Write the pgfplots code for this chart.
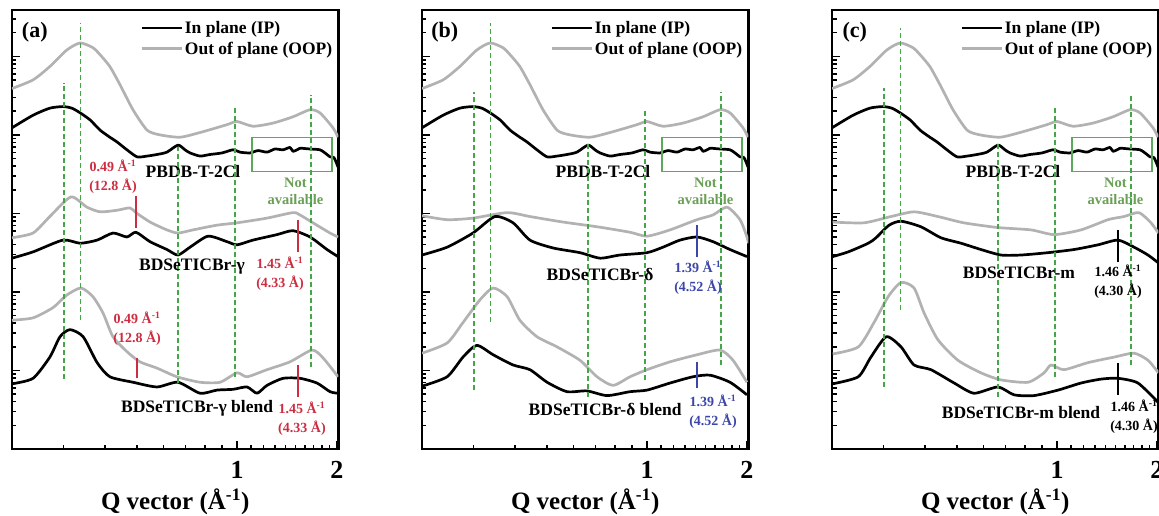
\documentclass[border=0pt]{standalone}
\usepackage{fontspec}
\setmainfont{Liberation Serif}
\usepackage{pgfplots}
\pgfplotsset{compat=1.18}
\definecolor{oop}{RGB}{178,178,178}
\definecolor{dgreen}{RGB}{70,165,70}
\definecolor{boxgreen}{RGB}{90,170,90}
\definecolor{txtgreen}{RGB}{105,160,85}
\definecolor{lred}{RGB}{205,45,65}
\definecolor{lblue}{RGB}{60,70,170}
\newcommand\lbl{\fontsize{17.5}{21}\selectfont\bfseries}
\newcommand\sml{\fontsize{14}{19}\selectfont\bfseries}
\newcommand\gsml{\fontsize{14.5}{17}\selectfont\bfseries}
\tikzset{
 ipcurve/.style={black, line width=2.7pt, smooth, tension=0.4, line join=round},
 opcurve/.style={oop, line width=2.7pt, smooth, tension=0.4, line join=round},
 gdash/.style={dgreen, line width=1.6pt, dash pattern=on 5pt off 3pt},
}
\newcommand\pbdb{%
 \addplot[ipcurve] coordinates {(0.210,4.09)(0.243,4.25)(0.273,4.34)(0.299,4.36)(0.318,4.34)(0.337,4.28)(0.361,4.19)(0.387,4.06)(0.414,3.97)(0.435,3.91)(0.466,3.81)(0.500,3.72)(0.536,3.73)(0.574,3.75)(0.615,3.78)(0.664,3.87)(0.697,3.81)(0.722,3.77)(0.774,3.73)(0.829,3.75)(0.901,3.77)(0.973,3.81)(1.021,3.78)(1.094,3.77)(1.157,3.80)(1.231,3.78)(1.301,3.82)(1.376,3.81)(1.444,3.84)(1.474,3.79)(1.516,3.81)(1.548,3.83)(1.659,3.82)(1.778,3.81)(1.854,3.76)(1.906,3.72)(1.960,3.71)(2.015,3.59)};
 \addlegendentry{In plane (IP)}
 \addplot[opcurve] coordinates {(0.210,4.59)(0.243,4.70)(0.273,4.87)(0.307,5.08)(0.337,5.17)(0.368,5.11)(0.387,5.02)(0.414,4.87)(0.444,4.64)(0.486,4.32)(0.536,4.06)(0.586,4.00)(0.673,3.97)(0.774,4.03)(0.933,4.13)(1.000,4.17)(1.117,4.11)(1.283,4.15)(1.474,4.23)(1.659,4.32)(1.778,4.28)(1.946,4.09)(2.015,3.97)};
 \addlegendentry{Out of plane (OOP)}
 \draw[boxgreen, line width=1.4pt] (axis cs:1.11,3.53) rectangle (axis cs:1.93,3.97);
 \node[font=\lbl] at (axis cs:0.737,3.53) {PBDB-T-2Cl};
 \node[txtgreen, font=\gsml, align=center] at (axis cs:1.50,3.28) {Not\\available};
}
\pgfplotsset{
  /pgfplots/every axis/.append style={
  scale only axis, width=326.4pt, height=439pt,
  xmin=0.21, xmax=2.02, ymin=0, ymax=5.59,
  axis line style={line width=2.3pt},
  tick align=inside, xtick pos=bottom, ytick pos=left,
  major tick length=8pt, minor tick length=4.5pt,
  every tick/.style={line width=1.5pt, black},
  xticklabel style={font=\fontsize{26}{26}\selectfont\bfseries, yshift=-9pt},
  xlabel style={font=\fontsize{25}{25}\selectfont\bfseries, at={(axis description cs:0.5,0)}, anchor=center, yshift=-53pt},
  legend style={draw=none, fill=none, font=\lbl, at={(1,1)}, anchor=north east, xshift=-2pt, yshift=-7pt, row sep=3pt, inner sep=2pt},
  legend cell align=left,
  }
}
\begin{document}
\begin{tikzpicture}
\useasboundingbox (0,0) rectangle (1159pt,515pt);
% ---------------- (a)
\begin{axis}[at={(12pt,66pt)}, anchor=south west, xmode=log,
  xtick={1,2}, xticklabels={1,2},
  minor xtick={0.3,0.4,0.5,0.6,0.7,0.8,0.9,1.1,1.2,1.3,1.4,1.5,1.6,1.7,1.8,1.9},
  ytick={1,2,3,4,5}, yticklabels={},
  minor ytick={0.301,0.477,0.602,0.699,0.778,0.845,0.903,0.954,1.301,1.477,1.602,1.699,1.778,1.845,1.903,1.954,2.301,2.477,2.602,2.699,2.778,2.845,2.903,2.954,3.301,3.477,3.602,3.699,3.778,3.845,3.903,3.954,4.301,4.477,4.602,4.699,4.778,4.845,4.903,4.954,5.301,5.477},
  xlabel={Q vector (Å\textsuperscript{-1})},
  legend image code/.code={\draw[#1] (0pt,0pt) -- (40pt,0pt);}]
 \pbdb
 \addplot[opcurve, forget plot] coordinates {(0.210,2.69)(0.243,2.75)(0.273,2.96)(0.316,3.21)(0.353,3.08)(0.387,3.02)(0.435,3.04)(0.476,3.07)(0.496,3.01)(0.547,2.89)(0.615,2.79)(0.664,2.75)(0.737,2.79)(0.870,2.85)(1.000,2.88)(1.231,2.94)(1.474,3.01)(1.548,2.98)(1.694,2.88)(1.906,2.75)(2.015,2.70)};
 \addplot[ipcurve, forget plot] coordinates {(0.210,2.43)(0.243,2.51)(0.299,2.66)(0.337,2.62)(0.379,2.66)(0.423,2.75)(0.466,2.70)(0.496,2.76)(0.547,2.64)(0.615,2.54)(0.664,2.47)(0.722,2.57)(0.818,2.71)(0.933,2.64)(1.000,2.60)(1.117,2.66)(1.320,2.73)(1.474,2.78)(1.659,2.70)(1.867,2.54)(2.015,2.45)};
 \addplot[opcurve, forget plot] coordinates {(0.210,1.64)(0.243,1.67)(0.279,1.80)(0.307,1.96)(0.339,2.05)(0.368,1.94)(0.395,1.73)(0.423,1.43)(0.466,1.24)(0.510,1.11)(0.574,1.03)(0.659,0.92)(0.774,0.85)(0.889,0.85)(1.000,0.97)(1.072,0.92)(1.231,1.01)(1.444,1.11)(1.682,1.26)(1.816,1.16)(2.015,0.92)};
 \addplot[ipcurve, forget plot] coordinates {(0.210,0.83)(0.243,0.90)(0.273,1.17)(0.293,1.43)(0.314,1.52)(0.344,1.43)(0.379,1.10)(0.414,0.92)(0.486,0.85)(0.574,0.79)(0.664,0.85)(0.774,0.71)(0.870,0.75)(0.973,0.76)(1.072,0.79)(1.149,0.71)(1.231,0.81)(1.376,0.90)(1.548,0.90)(1.741,0.84)(1.906,0.73)(2.015,0.71)};
 \addplot[gdash, forget plot] coordinates {(0.301,0.89)(0.301,4.66)};
 \addplot[gdash, forget plot] coordinates {(0.3375,1.64)(0.3375,5.43)};
 \addplot[gdash, forget plot] coordinates {(0.664,0.84)(0.664,3.85)};
 \addplot[gdash, forget plot] coordinates {(0.985,0.92)(0.985,4.36)};
 \addplot[gdash, forget plot] coordinates {(1.671,1.04)(1.671,4.51)};
 \addplot[lred, line width=1.4pt, forget plot] coordinates {(0.496,2.82)(0.496,3.22)};
 \addplot[lred, line width=1.4pt, forget plot] coordinates {(1.526,2.51)(1.526,2.92)};
 \addplot[lred, line width=1.4pt, forget plot] coordinates {(0.500,0.90)(0.500,1.16)};
 \addplot[lred, line width=1.4pt, forget plot] coordinates {(1.526,0.66)(1.526,1.07)};
 \node[font=\fontsize{22}{22}\selectfont\bfseries] at (axis cs:0.246,5.31) {(a)};
 \node[lred, font=\sml, align=center] at (axis cs:0.423,3.47) {0.49 Å\textsuperscript{-1}\\(12.8 Å)};
 \node[font=\lbl] at (axis cs:0.732,2.32) {BDSeTICBr-γ};
 \node[lred, font=\sml, align=center] at (axis cs:1.347,2.23) {1.45 Å\textsuperscript{-1}\\(4.33 Å)};
 \node[lred, font=\sml, align=center] at (axis cs:0.500,1.53) {0.49 Å\textsuperscript{-1}\\(12.8 Å)};
 \node[font=\lbl] at (axis cs:0.758,0.52) {BDSeTICBr-γ blend};
 \node[lred, font=\sml, align=center] at (axis cs:1.569,0.39) {1.45 Å\textsuperscript{-1}\\(4.33 Å)};
\end{axis}
% ---------------- (b)
\begin{axis}[at={(422pt,66pt)}, anchor=south west, xmode=log,
  xtick={1,2}, xticklabels={1,2},
  minor xtick={0.3,0.4,0.5,0.6,0.7,0.8,0.9,1.1,1.2,1.3,1.4,1.5,1.6,1.7,1.8,1.9},
  ytick={1,2,3,4,5}, yticklabels={},
  minor ytick={0.301,0.477,0.602,0.699,0.778,0.845,0.903,0.954,1.301,1.477,1.602,1.699,1.778,1.845,1.903,1.954,2.301,2.477,2.602,2.699,2.778,2.845,2.903,2.954,3.301,3.477,3.602,3.699,3.778,3.845,3.903,3.954,4.301,4.477,4.602,4.699,4.778,4.845,4.903,4.954,5.301,5.477},
  xlabel={Q vector (Å\textsuperscript{-1})},
  legend image code/.code={\draw[#1] (0pt,0pt) -- (40pt,0pt);}]
 \pbdb
 \addplot[opcurve, forget plot] coordinates {(0.210,2.97)(0.250,2.92)(0.299,2.94)(0.379,3.01)(0.444,2.96)(0.558,2.89)(0.707,2.83)(0.889,2.76)(1.000,2.71)(1.173,2.79)(1.414,2.92)(1.580,2.98)(1.741,3.08)(1.906,2.92)(2.000,2.70)(2.020,2.62)};
 \addplot[ipcurve, forget plot] coordinates {(0.210,2.47)(0.250,2.57)(0.299,2.75)(0.348,2.96)(0.395,2.88)(0.444,2.66)(0.521,2.56)(0.628,2.50)(0.722,2.43)(0.829,2.47)(1.000,2.50)(1.117,2.57)(1.257,2.66)(1.414,2.70)(1.580,2.64)(1.778,2.54)(2.000,2.45)};
 \addplot[opcurve, forget plot] coordinates {(0.210,1.22)(0.250,1.35)(0.279,1.61)(0.314,1.90)(0.344,2.05)(0.379,1.94)(0.414,1.64)(0.466,1.43)(0.536,1.30)(0.628,1.13)(0.707,0.92)(0.790,0.81)(0.889,0.92)(1.000,1.01)(1.173,1.11)(1.414,1.20)(1.659,1.26)(1.816,1.13)(2.000,0.85)};
 \addplot[ipcurve, forget plot] coordinates {(0.210,0.80)(0.250,0.92)(0.279,1.17)(0.307,1.32)(0.344,1.20)(0.395,1.07)(0.444,1.01)(0.500,0.85)(0.574,0.73)(0.659,0.74)(0.758,0.68)(0.889,0.73)(1.000,0.75)(1.173,0.84)(1.376,0.92)(1.548,0.94)(1.778,0.85)(2.000,0.69)};
 \addplot[gdash, forget plot] coordinates {(0.301,0.75)(0.301,4.55)};
 \addplot[gdash, forget plot] coordinates {(0.3375,1.62)(0.3375,5.43)};
 \addplot[gdash, forget plot] coordinates {(0.664,0.66)(0.664,3.90)};
 \addplot[gdash, forget plot] coordinates {(0.985,0.88)(0.985,4.34)};
 \addplot[gdash, forget plot] coordinates {(1.671,1.07)(1.671,4.55)};
 \addplot[lblue, line width=1.4pt, forget plot] coordinates {(1.414,2.45)(1.414,2.85)};
 \addplot[lblue, line width=1.4pt, forget plot] coordinates {(1.414,0.78)(1.414,1.11)};
 \node[font=\fontsize{22}{22}\selectfont\bfseries] at (axis cs:0.246,5.31) {(b)};
 \node[font=\lbl] at (axis cs:0.722,2.22) {BDSeTICBr-δ};
 \node[lblue, font=\sml, align=center] at (axis cs:1.424,2.18) {1.39 Å\textsuperscript{-1}\\(4.52 Å)};
 \node[font=\lbl] at (axis cs:0.748,0.50) {BDSeTICBr-δ blend};
 \node[lblue, font=\sml, align=center] at (axis cs:1.580,0.47) {1.39 Å\textsuperscript{-1}\\(4.52 Å)};
\end{axis}
% ---------------- (c)
\begin{axis}[at={(832pt,66pt)}, anchor=south west, xmode=log,
  xtick={1,2}, xticklabels={1,2},
  minor xtick={0.3,0.4,0.5,0.6,0.7,0.8,0.9,1.1,1.2,1.3,1.4,1.5,1.6,1.7,1.8,1.9},
  ytick={1,2,3,4,5}, yticklabels={},
  minor ytick={0.301,0.477,0.602,0.699,0.778,0.845,0.903,0.954,1.301,1.477,1.602,1.699,1.778,1.845,1.903,1.954,2.301,2.477,2.602,2.699,2.778,2.845,2.903,2.954,3.301,3.477,3.602,3.699,3.778,3.845,3.903,3.954,4.301,4.477,4.602,4.699,4.778,4.845,4.903,4.954,5.301,5.477},
  xlabel={Q vector (Å\textsuperscript{-1})},
  legend image code/.code={\draw[#1] (0pt,0pt) -- (40pt,0pt);}]
 \pbdb
 \addplot[opcurve, forget plot] coordinates {(0.211,2.89)(0.262,2.88)(0.316,2.96)(0.371,3.02)(0.438,2.96)(0.524,2.88)(0.664,2.82)(0.835,2.79)(0.980,2.73)(1.181,2.79)(1.424,2.92)(1.591,2.96)(1.765,3.01)(1.919,2.88)(2.020,2.75)};
 \addplot[ipcurve, forget plot] coordinates {(0.211,2.45)(0.235,2.51)(0.270,2.62)(0.285,2.69)(0.312,2.85)(0.339,2.90)(0.389,2.83)(0.447,2.69)(0.514,2.62)(0.590,2.54)(0.678,2.47)(0.779,2.47)(0.939,2.50)(1.125,2.54)(1.329,2.60)(1.526,2.66)(1.706,2.57)(1.879,2.47)(2.020,2.37)};
 \addplot[opcurve, forget plot] coordinates {(0.211,1.21)(0.252,1.30)(0.281,1.61)(0.310,1.94)(0.339,2.12)(0.371,2.05)(0.398,1.73)(0.438,1.39)(0.503,1.13)(0.590,0.97)(0.678,0.88)(0.818,0.85)(0.914,0.97)(0.959,1.07)(1.049,1.01)(1.240,1.10)(1.485,1.17)(1.706,1.22)(1.879,1.13)(2.020,0.97)};
 \addplot[ipcurve, forget plot] coordinates {(0.211,0.83)(0.252,0.92)(0.275,1.17)(0.306,1.43)(0.339,1.30)(0.371,1.07)(0.417,1.01)(0.490,0.84)(0.562,0.71)(0.664,0.79)(0.742,0.69)(0.852,0.68)(1.007,0.75)(1.181,0.84)(1.357,0.89)(1.526,0.90)(1.753,0.84)(2.020,0.59)};
 \addplot[gdash, forget plot] coordinates {(0.301,0.79)(0.301,4.60)};
 \addplot[gdash, forget plot] coordinates {(0.3375,1.77)(0.3375,5.36)};
 \addplot[gdash, forget plot] coordinates {(0.664,0.66)(0.664,3.91)};
 \addplot[gdash, forget plot] coordinates {(0.985,0.92)(0.985,4.36)};
 \addplot[gdash, forget plot] coordinates {(1.671,1.07)(1.671,4.53)};
 \addplot[black, line width=1.4pt, forget plot] coordinates {(1.526,2.38)(1.526,2.79)};
 \addplot[black, line width=1.4pt, forget plot] coordinates {(1.526,0.69)(1.526,1.10)};
 \node[font=\fontsize{22}{22}\selectfont\bfseries] at (axis cs:0.246,5.31) {(c)};
 \node[font=\lbl] at (axis cs:0.768,2.24) {BDSeTICBr-m};
 \node[font=\sml, align=center] at (axis cs:1.526,2.13) {1.46 Å\textsuperscript{-1}\\(4.30 Å)};
 \node[font=\lbl] at (axis cs:0.779,0.47) {BDSeTICBr-m blend};
 \node[font=\sml, align=center] at (axis cs:1.706,0.41) {1.46 Å\textsuperscript{-1}\\(4.30 Å)};
\end{axis}
\end{tikzpicture}
\end{document}
